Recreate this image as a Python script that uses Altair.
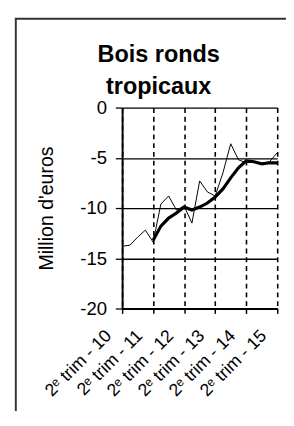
import altair as alt
import pandas as pd

# quarterly index (2e trim 2010 .. 2e trim 2015)
quarter_index = list(range(21))
brut = [-13.8, -13.7, -12.9, -12.2, -13.4, -9.6, -8.8, -10.2, -9.8, -11.5, -7.3,
        -8.4, -8.8, -6.5, -3.6, -5.2, -5.5, -5.4, -5.6, -5.4, -4.5]
moyenne = [None, None, None, None, -13.2, -11.8, -11.0, -10.5, -9.9, -10.2, -9.9,
           -9.5, -8.9, -8.1, -7.0, -6.0, -5.3, -5.4, -5.6, -5.5, -5.5]
tick_positions = [0, 4, 8, 12, 16, 20]
tick_labels = ["2ᵉ trim - 10", "2ᵉ trim - 11", "2ᵉ trim - 12",
               "2ᵉ trim - 13", "2ᵉ trim - 14", "2ᵉ trim - 15"]
y_ticks = [0, -5, -10, -15, -20]
title_lines = ["Bois ronds", "tropicaux"]
y_title = "Million d'euros"

FONT = "Liberation Sans"

df_brut = pd.DataFrame({"q": quarter_index, "v": brut})
df_moy = pd.DataFrame({"q": quarter_index, "v": moyenne}).dropna()

label_expr = "[" + ",".join("'" + t + "'" for t in tick_labels) + "][floor(datum.value / 4)]"

x_enc = alt.X(
    "q:Q",
    scale=alt.Scale(domain=[0, 20], nice=False, zero=False),
    axis=alt.Axis(
        values=tick_positions,
        tickCount=21,
        labelExpr=label_expr,
        labelAngle=-45,
        labelAlign="right",
        labelBaseline="middle",
        labelFontSize=18,
        labelFont=FONT,
        labelColor="black",
        labelPadding=20,
        labelOffset=-14,
        labelOverlap=False,
        labelFlush=False,
        labelBound=False,
        grid=True,
        gridColor="black",
        gridDash=[5, 4],
        gridWidth=1.6,
        domainColor="black",
        domainWidth=2,
        tickColor="black",
        tickSize=5,
        tickWidth=1.5,
        title=None,
    ),
)
y_enc = alt.Y(
    "v:Q",
    scale=alt.Scale(domain=[-20, 0], nice=False),
    axis=alt.Axis(
        values=y_ticks,
        tickCount=21,
        labelExpr="'' + datum.value",
        labelFontSize=19,
        labelFont=FONT,
        labelColor="black",
        labelPadding=9,
        labelOverlap=False,
        grid=True,
        gridColor="black",
        gridWidth=1.3,
        domainColor="black",
        domainWidth=2,
        tickColor="black",
        tickSize=7,
        tickWidth=1.3,
        title=y_title,
        titleFont=FONT,
        titleFontSize=20,
        titleFontWeight="normal",
        titleColor="black",
        titlePadding=24,
    ),
)

thin = alt.Chart(df_brut).mark_line(color="black", strokeWidth=1).encode(x=x_enc, y=y_enc)
thick = alt.Chart(df_moy).mark_line(color="black", strokeWidth=3.2).encode(x="q:Q", y="v:Q")

frame = alt.Chart(alt.Data(values=[{"a": 1}])).mark_rect(
    fillOpacity=0, stroke="#333333", strokeWidth=2
).encode(x=alt.value(-109), x2=alt.value(400), y=alt.value(-91), y2=alt.value(500))

chart = alt.layer(frame, thin, thick).properties(
    width=159,
    height=206,
    title=alt.TitleParams(
        text=title_lines,
        fontSize=24,
        fontWeight="bold",
        font=FONT,
        color="black",
        anchor="middle",
        dx=-42,
        dy=93,
        lineHeight=33,
        offset=10,
    ),
    autosize=alt.AutoSizeParams(type="none"),
    padding={"left": 117, "top": 97, "right": 9, "bottom": 100},
    background="white",
).configure_view(strokeWidth=0)

chart.save("out.html", embed_options={"renderer": "svg", "actions": False})
